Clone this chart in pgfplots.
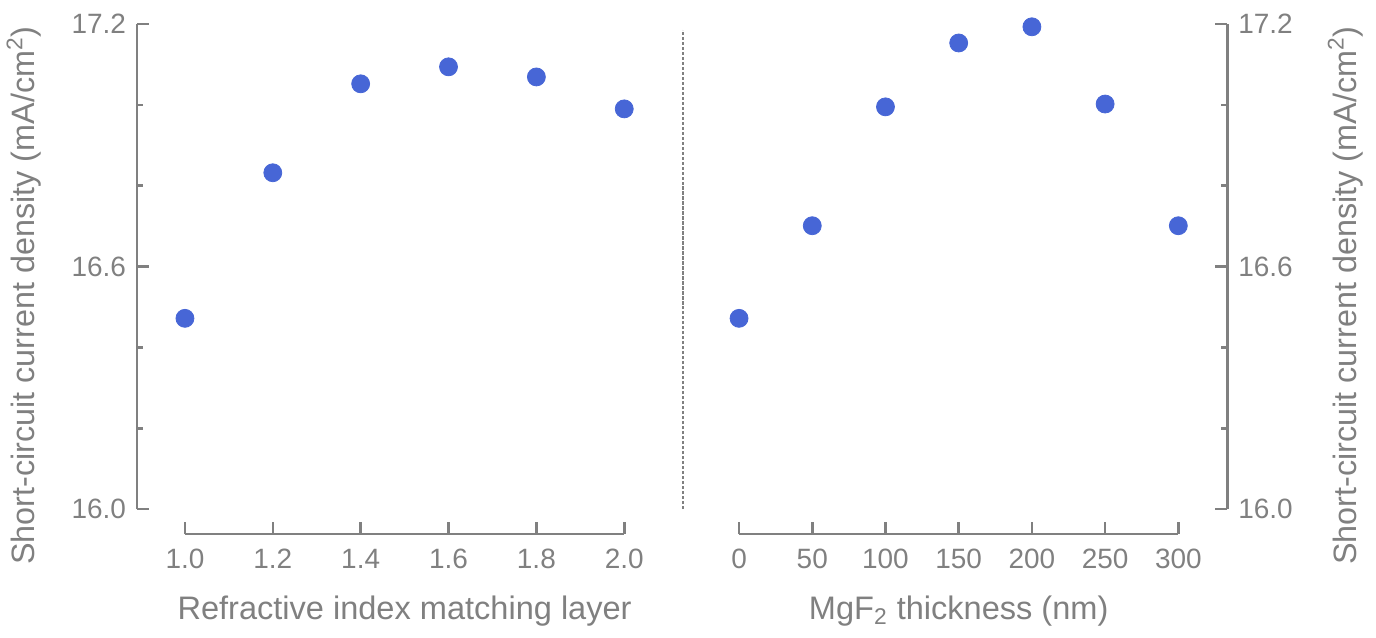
\documentclass[border=0pt]{standalone}
\usepackage{pgfplots}
\pgfplotsset{compat=1.18}
\usepackage{fontspec}
\setmainfont{Liberation Sans}
\definecolor{axgray}{HTML}{808080}
\definecolor{dotblue}{HTML}{4766D6}

\pgfplotsset{
  panel/.style={
    scale only axis, width=220pt, height=243pt,
    ymin=16.0, ymax=17.2,
    ytick={16.0,16.6,17.2}, minor ytick={16.2,16.4,16.8,17.0},
    clip=false,
    /pgf/number format/assume math mode=true,
    axis x line*=bottom,
    xtick pos=lower, xticklabel pos=lower,
    axis x line shift=12.5pt,
    axis line style={-, draw=axgray, line width=1.3pt},
    tick style={draw=axgray, line width=1.3pt},
    major tick length=6pt, minor tick length=3pt,
    tick align=inside,
    font=\fontsize{14}{16}\selectfont,
    tick label style={text=axgray},
    xticklabel style={yshift=-4pt},
    yticklabel style={/pgf/number format/fixed, /pgf/number format/fixed zerofill,
      /pgf/number format/precision=1},
    every axis x label/.style={at={(axis description cs:0.5,-0.21)}, anchor=center,
      text=axgray, font=\fontsize{16.3}{19}\selectfont},
  },
  dots/.style={only marks, mark=*, mark size=4.5pt, color=dotblue, mark options={draw=dotblue, fill=dotblue}},
}

\begin{document}
\begin{tikzpicture}
\path (-91.5pt,-64.5pt) rectangle (596.5pt,255pt);

\begin{axis}[panel,
  at={(0pt,0pt)}, anchor=south west,
  axis y line*=left,
  ytick pos=left, yticklabel pos=left,
  axis y line shift=24pt,
  xmin=1.0, xmax=2.0,
  xtick={1.0,1.2,1.4,1.6,1.8,2.0},
  xticklabel style={/pgf/number format/fixed, /pgf/number format/fixed zerofill,
    /pgf/number format/precision=1},
  yticklabel style={xshift=-2pt},
  xlabel={Refractive index matching layer},
  ylabel={Short-circuit current density (mA/cm\textsuperscript{2})},
  every axis y label/.style={at={(axis description cs:-0.366,0.44)}, rotate=90, anchor=center,
    text=axgray, font=\fontsize{16.2}{19}\selectfont},
]
\addplot[dots] coordinates {
  (1.0,16.472) (1.2,16.832) (1.4,17.052) (1.6,17.094) (1.8,17.069) (2.0,16.990)
};
\end{axis}

% dotted separator between the panels
\draw[axgray, dash pattern=on 1.6pt off 0.9pt, line width=1.2pt] (249.5pt,0pt) -- (249.5pt,240pt);

\begin{axis}[panel,
  at={(277.5pt,0pt)}, anchor=south west,
  axis y line*=right,
  ytick pos=right, yticklabel pos=right,
  axis y line shift=24.5pt,
  xmin=0, xmax=300,
  xtick={0,50,100,150,200,250,300},
  yticklabel style={xshift=2pt},
  xlabel={MgF\textsubscript{2} thickness (nm)},
  ylabel={Short-circuit current density (mA/cm\textsuperscript{2})},
  every axis y label/.style={at={(axis description cs:1.38,0.44)}, rotate=90, anchor=center,
    text=axgray, font=\fontsize{16.2}{19}\selectfont},
]
\addplot[dots] coordinates {
  (0,16.472) (50,16.701) (100,16.995) (150,17.153) (200,17.193) (250,17.002) (300,16.701)
};
\end{axis}
\end{tikzpicture}
\end{document}
